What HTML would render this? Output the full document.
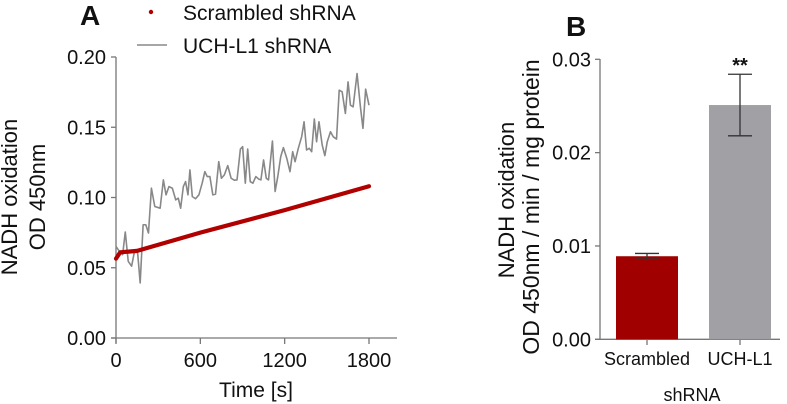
<!DOCTYPE html>
<html><head><meta charset="utf-8"><style>
html,body{margin:0;padding:0;background:#fff;}
svg{display:block;font-family:"Liberation Sans",sans-serif;}
</style></head><body>
<svg id="c" width="787" height="404" viewBox="0 0 787 404"></svg>
<script>
const timeA=[0,24,47,66,87,111,134,153,172,193,212,231,252,276,314,337,356,377,401,425,443,460,479,495,512,526,543,566,590,613,632,649,668,689,708,731,750,771,795,819,842,861,885,901,920,937,955,974,995,1014,1031,1050,1069,1085,1113,1132,1151,1172,1191,1215,1238,1257,1274,1297,1321,1338,1356,1375,1392,1411,1427,1444,1467,1486,1503,1526,1545,1569,1588,1609,1632,1651,1668,1687,1715,1739,1757,1776,1800];
const uchValues=[0.0652,0.0617,0.0593,0.0754,0.0546,0.0511,0.0629,0.0617,0.0392,0.0806,0.0806,0.0747,0.1066,0.0936,0.0924,0.1125,0.1019,0.1078,0.1066,0.0983,0.0995,0.0924,0.1078,0.1113,0.1019,0.1196,0.1007,0.0991,0.1019,0.1102,0.1184,0.1149,0.1149,0.1019,0.1024,0.1255,0.1137,0.1161,0.1227,0.1137,0.1123,0.1125,0.1345,0.1362,0.1102,0.1345,0.1113,0.1102,0.1149,0.1132,0.1125,0.1267,0.1137,0.1125,0.1402,0.1043,0.1149,0.1291,0.1355,0.1279,0.1184,0.1326,0.1255,0.1350,0.1433,0.1539,0.1338,0.1350,0.1326,0.1558,0.1397,0.1539,0.1374,0.1298,0.1397,0.1468,0.1433,0.1416,0.1764,0.1752,0.1598,0.1823,0.1657,0.1645,0.1882,0.1645,0.1492,0.1771,0.1657];
const scrTime=[0,30,150,600,1200,1800];
const scrValues=[0.0565,0.061,0.062,0.075,0.091,0.108];
const xTicksA=[0,600,1200,1800];
const yTicksA=[0,0.05,0.10,0.15,0.20];
const yTickLabelsA=["0.00","0.05","0.10","0.15","0.20"];
const barCats=["Scrambled","UCH-L1"];
const barValues=[0.0089,0.0251];
const barErr=[0.0003,0.0033];
const yTicksB=[0,0.01,0.02,0.03];
const yTickLabelsB=["0.00","0.01","0.02","0.03"];

const svg=document.getElementById('c');
const NS="http://www.w3.org/2000/svg";
function mk(tag,attrs,text){const e=document.createElementNS(NS,tag);for(const k in attrs)e.setAttribute(k,attrs[k]);if(text!==undefined)e.textContent=text;svg.appendChild(e);return e;}
const xA=t=>116+t*(369-116)/1800;
const yA=v=>338-v*(338-57)/0.2;
const yB=v=>339.3-v*(339.3-59.3)/0.03;
const AX="#777";
const FS=20;

// Panel A
let e=mk('text',{x:80,y:25,'font-size':28,'font-weight':'bold',fill:'#111'},'A');

e=mk('line',{x1:116,y1:57,x2:116,y2:343,stroke:AX,'stroke-width':1.3});

e=mk('line',{x1:111,y1:338,x2:397,y2:338,stroke:AX,'stroke-width':1.3});

yTicksA.forEach((v,i)=>{
  const t=mk('line',{x1:111,y1:yA(v),x2:116,y2:yA(v),stroke:AX,'stroke-width':1.3});
  
  const l=mk('text',{x:106,y:yA(v)+7,'font-size':FS,'text-anchor':'end',fill:'#111'},yTickLabelsA[i]);
  
});
xTicksA.forEach(v=>{
  const t=mk('line',{x1:xA(v),y1:338,x2:xA(v),y2:344,stroke:AX,'stroke-width':1.3});
  
  const l=mk('text',{x:xA(v),y:367,'font-size':FS,'text-anchor':'middle',fill:'#111'},String(v));
  
});
e=mk('text',{x:256,y:397,'font-size':21,'text-anchor':'middle',fill:'#111'},'Time [s]');

e=mk('text',{transform:'translate(17,197) rotate(-90)','font-size':22,'text-anchor':'middle',fill:'#111'},'NADH oxidation');

e=mk('text',{transform:'translate(45,197) rotate(-90)','font-size':22,'text-anchor':'middle',fill:'#111'},'OD 450nm');

// series
e=mk('polyline',{points:uchValues.map((v,i)=>xA(timeA[i])+','+yA(v)).join(' '),fill:'none',stroke:'#888','stroke-width':1.6,'stroke-linejoin':'round'});

e=mk('polyline',{points:scrValues.map((v,i)=>xA(scrTime[i])+','+yA(v)).join(' '),fill:'none',stroke:'#b00000','stroke-width':4.2,'stroke-linejoin':'round','stroke-linecap':'round'});

// legend
e=mk('circle',{cx:151,cy:12,r:2.2,fill:'#b00000'});

e=mk('text',{x:183,y:20,'font-size':21,fill:'#111'},'Scrambled shRNA');

e=mk('line',{x1:137,y1:45,x2:167,y2:45,stroke:'#888','stroke-width':1.6});

e=mk('text',{x:183,y:53,'font-size':21,fill:'#111'},'UCH-L1 shRNA');


// Panel B
e=mk('text',{x:566,y:36,'font-size':28,'font-weight':'bold',fill:'#111'},'B');

e=mk('line',{x1:600,y1:59,x2:600,y2:339.3,stroke:AX,'stroke-width':1.3});

e=mk('line',{x1:595,y1:339.3,x2:780,y2:339.3,stroke:AX,'stroke-width':1.3});

yTicksB.forEach((v,i)=>{
  const t=mk('line',{x1:595,y1:yB(v),x2:600,y2:yB(v),stroke:AX,'stroke-width':1.3});
  
  const l=mk('text',{x:591,y:yB(v)+7,'font-size':FS,'text-anchor':'end',fill:'#111'},yTickLabelsB[i]);
  
});
const barX=[616,709],barW=62,barCol=['#a00000','#a0a0a5'];
barValues.forEach((v,i)=>{
  const b=mk('rect',{x:barX[i],y:yB(v),width:barW,height:yB(0)-yB(v),fill:barCol[i]});
  
  const cx=barX[i]+barW/2;
  const eb=mk('path',{d:`M${cx},${yB(v-barErr[i])}V${yB(v+barErr[i])}M${cx-12},${yB(v+barErr[i])}H${cx+12}M${cx-12},${yB(v-barErr[i])}H${cx+12}`,stroke:'#333','stroke-width':1.3,fill:'none'});
  
  const t=mk('line',{x1:cx,y1:339.3,x2:cx,y2:345,stroke:AX,'stroke-width':1.3});
  
  const l=mk('text',{x:cx,y:365,'font-size':18,'text-anchor':'middle',fill:'#111'},barCats[i]);
  
});
e=mk('text',{x:740,y:yB(barValues[1]+barErr[1])-2,'font-size':20,'font-weight':'bold','text-anchor':'middle',fill:'#111'},'**');

e=mk('text',{x:692,y:401,'font-size':18,'text-anchor':'middle',fill:'#111'},'shRNA');

e=mk('text',{transform:'translate(514,200) rotate(-90)','font-size':22,'text-anchor':'middle',fill:'#111'},'NADH oxidation');

e=mk('text',{transform:'translate(539,207) rotate(-90)','font-size':23,'text-anchor':'middle',fill:'#111'},'OD 450nm / min / mg protein');

</script>
</body></html>
